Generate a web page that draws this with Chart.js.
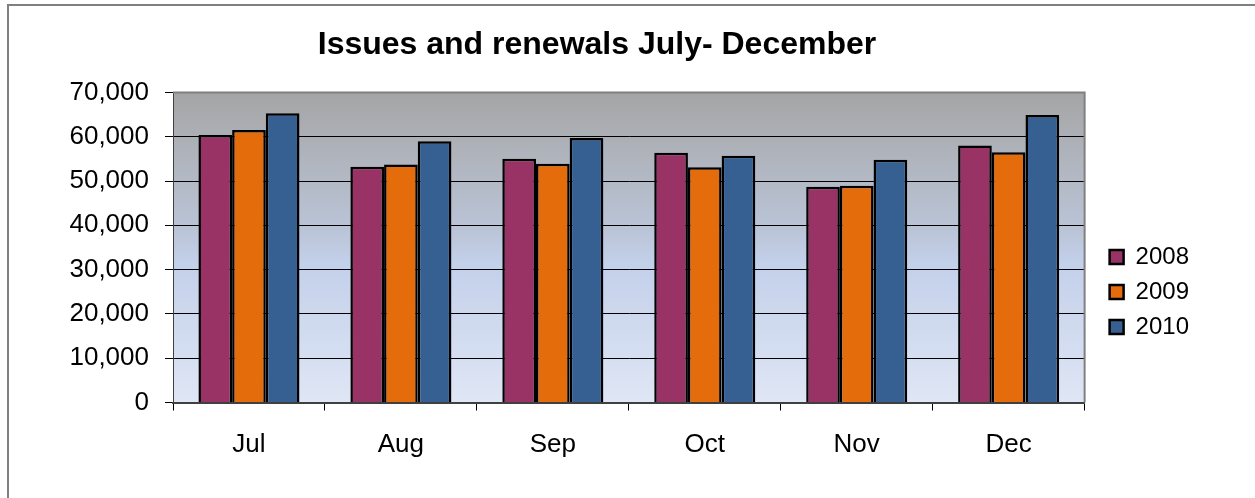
<!DOCTYPE html>
<html>
<head>
<meta charset="utf-8">
<script src="https://cdn.jsdelivr.net/npm/chart.js@4/dist/chart.umd.min.js"></script>
<style>
  html, body { margin: 0; padding: 0; background: #fff; }
  canvas { display: block; }
</style>
</head>
<body>
<canvas id="myChart" width="1255" height="498"></canvas>
<script>
// data
const months = ["Jul", "Aug", "Sep", "Oct", "Nov", "Dec"];
const years = ["2008", "2009", "2010"];
const values2008 = [60400, 53200, 55000, 56400, 48700, 58000];
const values2009 = [61500, 53700, 53900, 53100, 48900, 56500];
const values2010 = [65300, 59000, 59700, 55700, 54800, 64900];
const yTicks = [0, 10000, 20000, 30000, 40000, 50000, 60000, 70000];

const barColors = ["#993366", "#e46c0a", "#366092"];

// plot area gradient + frame, drawn before the grid
const plotBackground = {
  id: "plotBackground",
  beforeDraw(chart) {
    const { ctx, chartArea: a } = chart;
    ctx.save();
    ctx.fillStyle = "#ffffff";
    ctx.fillRect(0, 0, chart.width, chart.height);
    let g = ctx.createLinearGradient(0, a.top, 0, a.bottom);
    g.addColorStop(0, "#a5a5a5");
    g.addColorStop(0.45, "#bbc5d8");
    g.addColorStop(0.55, "#c3d0ea");
    g.addColorStop(1, "#dfe6f5");
    ctx.fillStyle = g;
    ctx.fillRect(a.left, a.top, a.right - a.left, a.bottom - a.top);
    // outer chart frame
    ctx.strokeStyle = "#808080";
    ctx.lineWidth = 2;
    ctx.beginPath();
    ctx.moveTo(8, chart.height + 5);
    ctx.lineTo(8, 5);
    ctx.lineTo(chart.width + 5, 5);
    ctx.stroke();
    ctx.restore();
  },
  beforeDatasetsDraw(chart) {
    const { ctx, chartArea: a } = chart;
    ctx.save();
    ctx.strokeStyle = "#808080";
    ctx.lineWidth = 2;
    ctx.beginPath();
    ctx.moveTo(a.left, a.top);
    ctx.lineTo(a.right, a.top);
    ctx.lineTo(a.right, a.bottom);
    ctx.stroke();
    ctx.restore();
  },
  afterLayout(chart) {
    // Excel centres the title a bit left of the canvas middle
    chart.titleBlock.left = 0;
    chart.titleBlock.right = 1194;
    // legend sits lower and further right than Chart.js puts it
    chart.legend.top += 43;
    chart.legend.bottom += 43;
    chart.legend.left += 14;
    chart.legend.right += 14;
  },
};

const ctx = document.getElementById("myChart").getContext("2d");

new Chart(ctx, {
  type: "bar",
  data: {
    labels: months,
    datasets: [
      { label: years[0], data: values2008, backgroundColor: barColors[0] },
      { label: years[1], data: values2009, backgroundColor: barColors[1] },
      { label: years[2], data: values2010, backgroundColor: barColors[2] },
    ],
  },
  options: {
    responsive: false,
    animation: false,
    layout: { padding: { left: 10, right: 70, top: 0, bottom: 0 } },
    datasets: {
      bar: {
        borderColor: "#000000",
        borderWidth: 2.5,
        barPercentage: 1,
        categoryPercentage: 0.665,
      },
    },
    font: { family: "Arial, 'Liberation Sans', sans-serif" },
    plugins: {
      title: {
        display: true,
        text: "Issues and renewals July- December",
        color: "#000",
        font: { size: 32, weight: "bold" },
        padding: { top: 26, bottom: 28 },
      },
      legend: {
        position: "right",
        labels: {
          color: "#000",
          font: { size: 24 },
          boxWidth: 14,
          boxHeight: 14,
          padding: 11,
        },
      },
      tooltip: { enabled: false },
    },
    scales: {
      x: {
        grid: {
          offset: true,
          drawOnChartArea: false,
          drawTicks: true,
          tickLength: 8,
          color: "#000",
        },
        border: { color: "#404040", width: 2 },
        ticks: { color: "#000", font: { size: 26 }, padding: 19 },
        afterFit(scale) {
          scale.height = 95.5;
        },
      },
      y: {
        min: 0,
        max: 70000,
        afterBuildTicks(scale) {
          scale.ticks = yTicks.map((v) => ({ value: v }));
        },
        grid: { color: "#000", tickLength: 8 },
        border: { color: "#404040", width: 1 },
        ticks: {
          color: "#000",
          font: { size: 26 },
          padding: 16,
          callback: (v) => v.toLocaleString("en-US"),
        },
        afterFit(scale) {
          scale.width = 163;
        },
      },
    },
  },
  plugins: [plotBackground],
});
</script>
</body>
</html>
